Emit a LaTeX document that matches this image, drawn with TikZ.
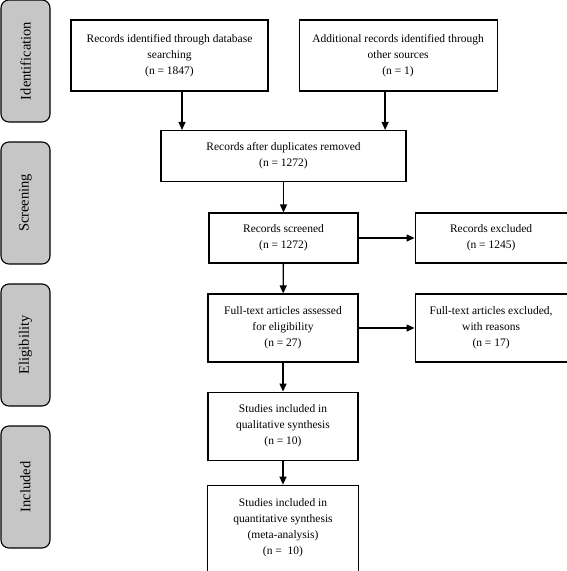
\documentclass[tikz,border=0pt]{standalone}
\usepackage{fontspec}
\setmainfont{Liberation Serif}
\usetikzlibrary{positioning,calc,arrows.meta}

\begin{document}
\begin{tikzpicture}[x=1pt, y=-1pt]
    \tikzset{box/.style={
        draw, line width=1.1pt, align=center, inner sep=2pt,
        font=\fontsize{11.5}{16}\selectfont
      },
      phase/.style={
        draw, line width=1.1pt, rounded corners=8pt, fill=gray!45,
        minimum width=49pt, minimum height=122pt
      },
      phaselabel/.style={rotate=90, font=\fontsize{14.5}{16}\selectfont},
      arr/.style={-{Triangle[width=7pt,length=8pt]}, line width=1.3pt}
    }

    \useasboundingbox (0,0) rectangle (567,571);

    % phases on the left
    \node[phase] (Id) at (25.5,61) {};
    \node[phase] (Sc) at (25.5,203) {};
    \node[phase] (El) at (25.5,345) {};
    \node[phase] (In) at (25.5,487) {};
    \node[phaselabel] at (Id) {Identification};
    \node[phaselabel] at (Sc) {Screening};
    \node[phaselabel] at (El) {Eligibility};
    \node[phaselabel] at (In) {Included};

    \node[box, minimum width=197pt, minimum height=71pt] (DB) at (169.5,55.5)
      {Records identified through database\\ searching\\ (n = 1847)};
    \node[box, minimum width=198pt, minimum height=71pt] (Other) [right=30pt of DB]
      {Additional records identified through\\ other sources\\ (n = 1)};

    \node[box, minimum width=245pt, minimum height=51pt] (Dup) at (283.5,156)
      {Records after duplicates removed\\ (n = 1272)};

    \node[box, minimum width=149pt, minimum height=50pt] (Screened) at (283.5,238)
      {Records screened\\ (n = 1272)};
    \node[box, minimum width=152pt, minimum height=50pt] (Excl) [right=56pt of Screened]
      {Records excluded\\ (n = 1245)};

    \node[box, minimum width=150pt, minimum height=68pt] (Full) at (283,328)
      {Full-text articles assessed\\ for eligibility\\ (n = 27)};
    \node[box, minimum width=152pt, minimum height=68pt] (FullExcl) [right=56pt of Full]
      {Full-text articles excluded,\\ with reasons\\ (n = 17)};

    \node[box, minimum width=150pt, minimum height=68pt] (Qual) [below=29pt of Full]
      {Studies included in\\ qualitative synthesis\\ (n = 10)};
    \node[box, minimum width=151pt, minimum height=86pt] (Quant) [below=24pt of Qual]
      {Studies included in\\ quantitative synthesis\\ (meta-analysis)\\ (n =\ \ 10)};

    \draw[arr] ([xshift=12.5pt]DB.south) -- ([xshift=12.5pt]DB.south |- Dup.north);
    \draw[arr] ([xshift=-13pt]Other.south) -- ([xshift=-13pt]Other.south |- Dup.north);
    \draw[arr] (Dup) -- (Screened);
    \draw[arr] (Screened) -- (Excl);
    \draw[arr] (Screened) -- (Full);
    \draw[arr] (Full) -- (FullExcl);
    \draw[arr] (Full) -- (Qual);
    \draw[arr] (Qual) -- (Quant);
  \end{tikzpicture}
\end{document}
